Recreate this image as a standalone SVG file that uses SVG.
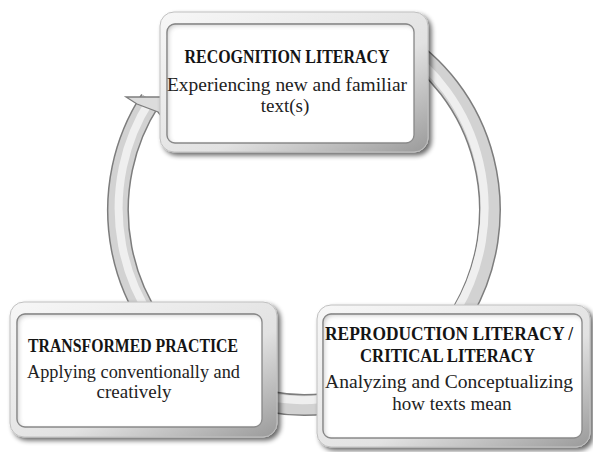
<svg xmlns="http://www.w3.org/2000/svg" width="593" height="452" viewBox="0 0 593 452">
<style>
.frame{fill:url(#frameGrad);stroke:#c0c0c0;stroke-width:1;filter:url(#shadow)}
.panel{fill:#ffffff;stroke:#8c8c8c;stroke-width:1.3;filter:url(#inner)}
.title{font-family:"Liberation Serif","Times New Roman",serif;font-weight:bold;font-size:18.5px;fill:#141414;text-anchor:middle}
.body{font-family:"Liberation Serif","Times New Roman",serif;font-size:19px;fill:#222;text-anchor:middle}
.band-edge{fill:none;stroke:#7d7d7d;stroke-width:22}
.band-fill{fill:none;stroke:#d2d2d2;stroke-width:19}
.band-hi{fill:none;stroke:#efefef;stroke-width:8}
</style>
<defs>
<linearGradient id="frameGrad" x1="0" y1="0" x2="1" y2="1">
<stop offset="0" stop-color="#f7f7f7"/>
<stop offset="0.6" stop-color="#e2e2e2"/>
<stop offset="1" stop-color="#9a9a9a"/>
</linearGradient>
<filter id="shadow" x="-10%" y="-10%" width="125%" height="130%">
<feGaussianBlur in="SourceAlpha" stdDeviation="2.5"/>
<feOffset dx="3" dy="3" result="b"/>
<feComponentTransfer><feFuncA type="linear" slope="0.6"/></feComponentTransfer>
<feMerge><feMergeNode/><feMergeNode in="SourceGraphic"/></feMerge>
</filter>
<filter id="inner" x="-5%" y="-5%" width="110%" height="110%">
<feGaussianBlur in="SourceAlpha" stdDeviation="2.5" result="blur"/>
<feOffset dx="2" dy="2" result="off"/>
<feComposite in="SourceAlpha" in2="off" operator="out" result="edge"/>
<feFlood flood-color="#808080" flood-opacity="0.6"/>
<feComposite in2="edge" operator="in" result="sh"/>
<feMerge><feMergeNode in="SourceGraphic"/><feMergeNode in="sh"/></feMerge>
</filter>
</defs>
<rect width="593" height="452" fill="#ffffff"/>
<g id="connectors">
<path class="band-edge" d="M 150.4 100 A 186 195 0 1 0 395 40"/>
<path class="band-fill" d="M 150.4 100 A 186 195 0 1 0 395 40"/>
<path class="band-hi" d="M 150.4 100 A 183 192 0 1 0 395 43"/>
<polygon points="126,97 184,97 172,130 158,112 137,104" fill="#dcdcdc" stroke="#7d7d7d" stroke-width="1.3" stroke-linejoin="miter"/>
</g>
<g id="recognition">
<rect class="frame" x="160" y="12" width="268" height="140" rx="14"/>
<rect class="panel" x="167" y="24" width="247" height="119" rx="8"/>
<text class="title" x="287" y="63" textLength="205" lengthAdjust="spacingAndGlyphs">RECOGNITION LITERACY</text>
<text class="body" x="287" y="91" textLength="240" lengthAdjust="spacingAndGlyphs">Experiencing new and familiar</text>
<text class="body" x="285" y="112">text(s)</text>
</g>
<g id="transformed">
<rect class="frame" x="10" y="302" width="267" height="135" rx="14"/>
<rect class="panel" x="17" y="314" width="245" height="113" rx="8"/>
<text class="title" x="133" y="352" textLength="210" lengthAdjust="spacingAndGlyphs">TRANSFORMED PRACTICE</text>
<text class="body" x="133.5" y="378" textLength="213" lengthAdjust="spacingAndGlyphs">Applying conventionally and</text>
<text class="body" x="134" y="398">creatively</text>
</g>
<g id="reproduction">
<rect class="frame" x="317" y="305" width="273" height="142" rx="14"/>
<rect class="panel" x="323" y="314" width="259" height="124" rx="8"/>
<text class="title" x="449" y="340" textLength="248" lengthAdjust="spacingAndGlyphs">REPRODUCTION LITERACY /</text>
<text class="title" x="447.5" y="362" textLength="175" lengthAdjust="spacingAndGlyphs">CRITICAL LITERACY</text>
<text class="body" x="449" y="388" textLength="248" lengthAdjust="spacingAndGlyphs">Analyzing and Conceptualizing</text>
<text class="body" x="452" y="410">how texts mean</text>
</g>
</svg>
